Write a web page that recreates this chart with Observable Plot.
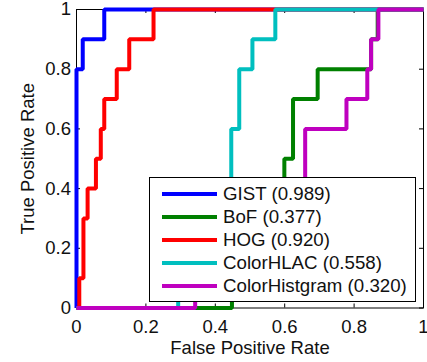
<!DOCTYPE html>
<html>
<head>
<meta charset="utf-8">
<script src="https://cdn.jsdelivr.net/npm/d3@7"></script>
<script src="https://cdn.jsdelivr.net/npm/@observablehq/plot@0.6"></script>
<style>
  html, body { margin: 0; padding: 0; background: #fff; }
  #wrap { position: relative; width: 427px; height: 362px; font-family: "Liberation Sans", Arial, sans-serif; }
  #legend { position: absolute; left: 149px; top: 177px; width: 265px; height: 119px; border: 1px solid #000; background: #fff; box-sizing: content-box; padding-top: 4px; }
  .row { display: flex; align-items: center; height: 23.1px; font-size: 18.7px; color: #111; white-space: nowrap; }
  .sw { width: 55px; height: 4px; margin-left: 12px; margin-right: 6px; }
</style>
</head>
<body>
<div id="wrap"></div>
<script>
// ---- data ----
const seriesNames = ["GIST", "BoF", "HOG", "ColorHLAC", "ColorHistgram"];
const seriesColors = ["#0000ff", "#008000", "#ff0000", "#00bfbf", "#bf00bf"];
const aucValues = ["0.989", "0.377", "0.920", "0.558", "0.320"];

const gistFpr = [0, 0, 0.018, 0.080, 1];
const gistTpr = [0, 0.8, 0.9, 1.0, 1.0];

const bofFpr = [0, 0.448, 0.599, 0.624, 0.695, 0.849, 0.868, 1];
const bofTpr = [0, 0.3, 0.5, 0.7, 0.8, 0.9, 1.0, 1.0];

const hogFpr = [0, 0.008, 0.020, 0.032, 0.056, 0.070, 0.080, 0.116, 0.152, 0.222, 1];
const hogTpr = [0, 0.1, 0.3, 0.4, 0.5, 0.6, 0.7, 0.8, 0.9, 1.0, 1.0];

const hlacFpr = [0, 0.293, 0.446, 0.469, 0.507, 0.573, 1];
const hlacTpr = [0, 0.2, 0.6, 0.8, 0.9, 1.0, 1.0];

const histFpr = [0, 0.342, 0.5, 0.659, 0.778, 0.838, 0.849, 0.870, 1];
const histTpr = [0, 0.1, 0.2, 0.6, 0.7, 0.8, 0.9, 1.0, 1.0];

const xTicks = [0, 0.2, 0.4, 0.6, 0.8, 1];
const xTickLabels = ["0", "0.2", "0.4", "0.6", "0.8", "1"];
const yTicks = [0, 0.2, 0.4, 0.6, 0.8, 1];
const yTickLabels = ["0", "0.2", "0.4", "0.6", "0.8", "1"];

// ---- build table ----
const seriesX = [gistFpr, bofFpr, hogFpr, hlacFpr, histFpr];
const seriesY = [gistTpr, bofTpr, hogTpr, hlacTpr, histTpr];
const rows = [];
seriesNames.forEach((name, i) => {
  seriesX[i].forEach((x, j) => rows.push({name, fpr: x, tpr: seriesY[i][j]}));
});

const W = 427, H = 362;
const mL = 76, mR = 4, mT = 9, mB = 54.5;
const plotW = W - mL - mR, plotH = H - mT - mB;
const tl = 4;

const chart = Plot.plot({
  width: W, height: H,
  marginLeft: mL, marginRight: mR, marginTop: mT, marginBottom: mB,
  style: {fontFamily: "'Liberation Sans', Arial, sans-serif", fontSize: "18.5px", background: "white", color: "#111", overflow: "visible"},
  x: {domain: [0, 1]},
  y: {domain: [0, 1]},
  color: {domain: seriesNames, range: seriesColors},
  marks: [
    Plot.frame({stroke: "#000", strokeWidth: 1}),
    Plot.tickX(xTicks, {x: d => d, insetTop: plotH - tl, stroke: "#000"}),
    Plot.tickX(xTicks, {x: d => d, insetBottom: plotH - tl, stroke: "#000"}),
    Plot.tickY(yTicks, {y: d => d, insetRight: plotW - tl, stroke: "#000"}),
    Plot.tickY(yTicks, {y: d => d, insetLeft: plotW - tl, stroke: "#000"}),
    Plot.axisX(xTicks, {tickSize: 0, tickPadding: 11.5, tickFormat: (d, i) => xTickLabels[i],
      label: "False Positive Rate", labelAnchor: "center", labelArrow: "none", labelOffset: 46}),
    Plot.axisY(yTicks, {tickSize: 0, tickPadding: 5.5, tickFormat: (d, i) => yTickLabels[i],
      label: "True Positive Rate", labelAnchor: "center", labelArrow: "none", labelOffset: 56}),
    Plot.line(rows, {x: "fpr", y: "tpr", z: "name", stroke: "name", strokeWidth: 4,
      curve: "step-after", strokeLinejoin: "miter", strokeLinecap: "butt"})
  ]
});

const wrap = document.getElementById("wrap");
wrap.appendChild(chart);

const legend = document.createElement("div");
legend.id = "legend";
seriesNames.forEach((name, i) => {
  const row = document.createElement("div");
  row.className = "row";
  const sw = document.createElement("div");
  sw.className = "sw";
  sw.style.background = seriesColors[i];
  const label = document.createElement("span");
  label.textContent = `${name} (${aucValues[i]})`;
  row.appendChild(sw);
  row.appendChild(label);
  legend.appendChild(row);
});
wrap.appendChild(legend);
</script>
</body>
</html>
